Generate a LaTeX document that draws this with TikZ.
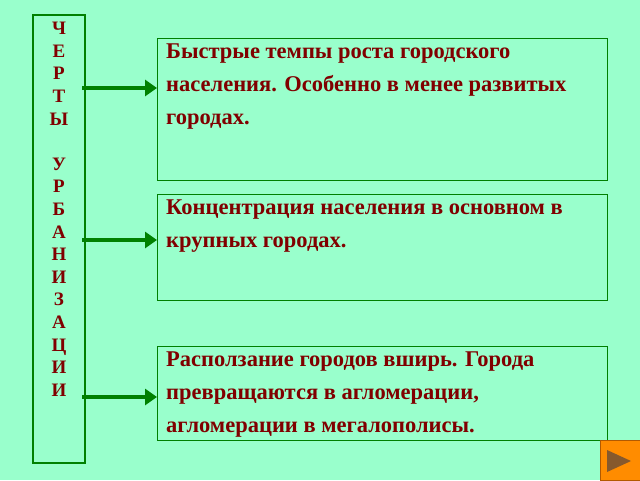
\documentclass[tikz,border=0pt]{standalone}
\usetikzlibrary{arrows.meta}
\usepackage{fontspec}
\setmainfont{Liberation Serif}
\definecolor{bg}{HTML}{99FFCC}
\definecolor{gr}{HTML}{008000}
\definecolor{tx}{HTML}{800000}
\begin{document}
\begin{tikzpicture}[x=1pt,y=-1pt,
  box/.style={draw=gr,line width=1.2pt},
  txt/.style={text=tx,font=\fontsize{22.5}{33}\selectfont\bfseries,align=left,anchor=north west,inner sep=0pt},
  arr/.style={draw=gr,line width=4pt,-{Triangle[length=12pt,width=16pt]}}]
\fill[bg] (0,0) rectangle (640,480);
\useasboundingbox (0,0) rectangle (640,480);
\draw[box] (33,15) rectangle (85,463);
\node[text=tx,font=\fontsize{19}{22.6}\selectfont\bfseries,align=center,anchor=north,inner sep=0pt] (v) at (59,22)
 {Ч\\Е\\Р\\Т\\Ы\\ \\У\\Р\\Б\\А\\Н\\И\\З\\А\\Ц\\И\\И};
\node[box,minimum width=450pt,minimum height=142pt,anchor=north west,inner sep=0pt] (b1) at (157,38) {};
\node[box,minimum width=450pt,minimum height=106pt,anchor=north west,inner sep=0pt] (b2) at (157,194) {};
\node[box,minimum width=450pt,minimum height=94pt,anchor=north west,inner sep=0pt] (b3) at (157,346) {};
\node[txt] (t1) at (166,44) {Быстрые темпы роста городского\\населения. Особенно в менее развитых\\городах.};
\node[txt] (t2) at (166,200) {Концентрация населения в основном в\\крупных городах.};
\node[txt] (t3) at (166,352) {Расползание городов вширь. Города\\превращаются в агломерации,\\агломерации в мегалополисы.};
\coordinate (a1) at (82,88); \coordinate (a2) at (82,240); \coordinate (a3) at (82,397);
\draw[arr] (a1) -- (b1.west|-a1);
\draw[arr] (a2) -- (b2.west|-a2);
\draw[arr] (a3) -- (b3.west|-a3);
\node[fill=orange!90!yellow,draw=orange!70!black,minimum size=40pt,inner sep=0pt] (btn) at (620,460) {};
\fill[brown!70!black] (607,450) -- (607,472) -- (631,461) -- cycle;
\end{tikzpicture}
\end{document}
